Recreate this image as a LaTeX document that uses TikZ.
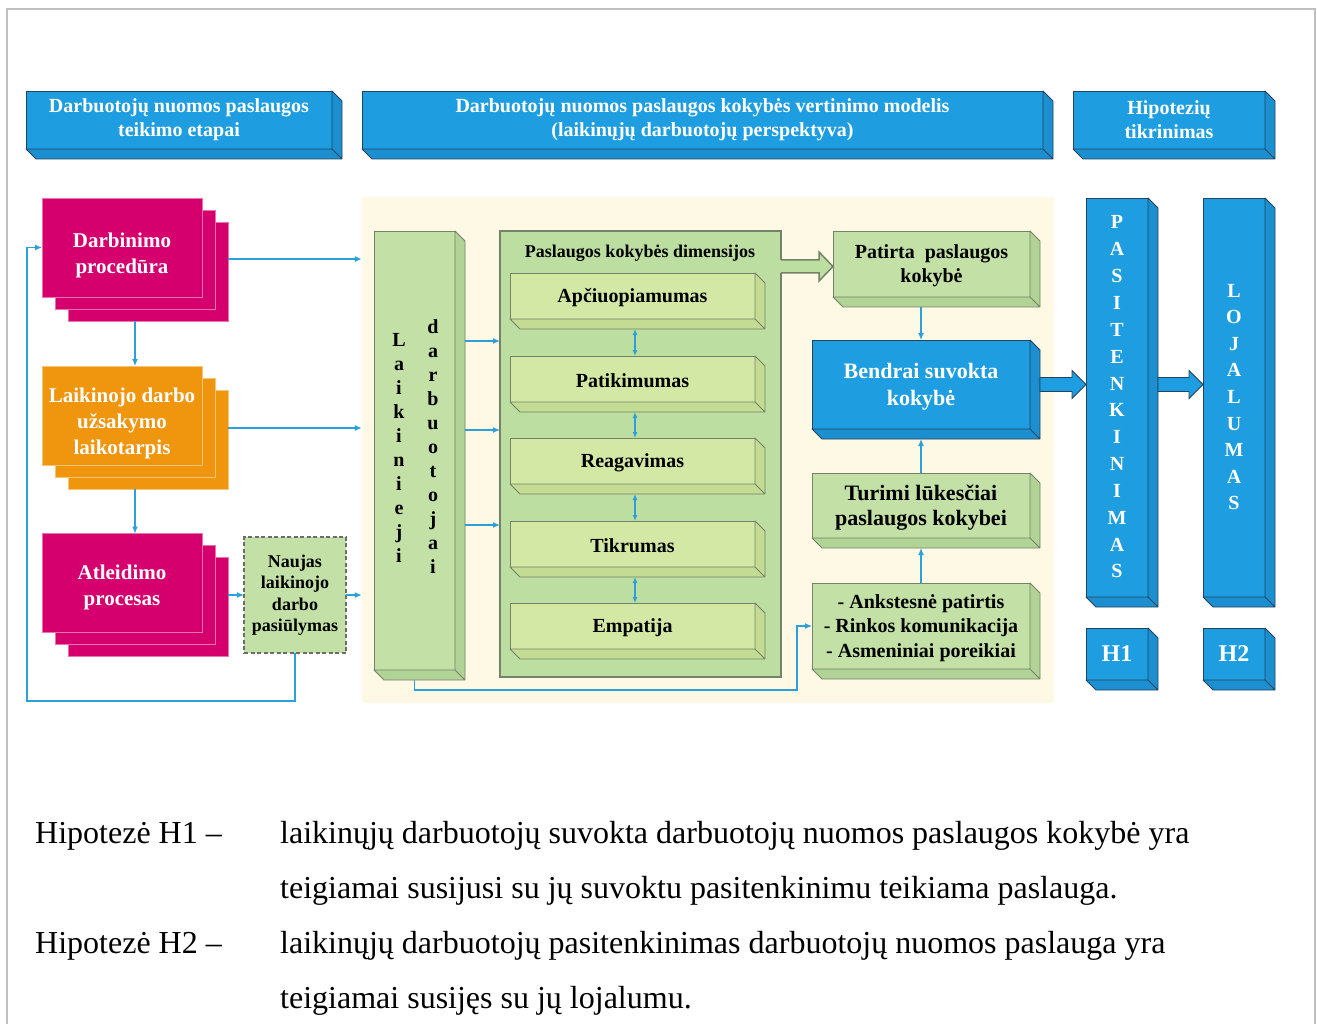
\documentclass[tikz,border=0pt]{standalone}
\usepackage{fontspec}
\setmainfont{Liberation Serif}
\usetikzlibrary{arrows.meta,calc}

\definecolor{hdrblue}{HTML}{1E9EE0}
\definecolor{hdrside}{HTML}{1B8FCF}
\definecolor{navy}{HTML}{24435E}
\definecolor{magen}{HTML}{D5006D}
\definecolor{orng}{HTML}{F0950E}
\definecolor{cream}{HTML}{FDF9E4}
\definecolor{grn}{HTML}{C3E0A6}
\definecolor{grnside}{HTML}{B2D396}
\definecolor{grnedge}{HTML}{74826B}
\definecolor{dimfill}{HTML}{BCDEA0}
\definecolor{lime}{HTML}{D4E8A6}
\definecolor{limeside}{HTML}{C4DB94}
\definecolor{arrblue}{HTML}{2BA0DA}
\definecolor{framegray}{HTML}{BFBFBF}

\newcommand\fs[2]{\fontsize{#1}{#2}\selectfont}

% right and bottom faces of a box seen slightly from below-right
\newcommand\extrude[3]{%
  \filldraw[fill=#2,draw=#3,line width=0.8pt,line join=round]
    (#1.north east) -- ([shift={(10,10)}]#1.north east) -- ([shift={(10,10)}]#1.south east) -- (#1.south east) -- cycle
    (#1.south west) -- ([shift={(10,10)}]#1.south west) -- ([shift={(10,10)}]#1.south east) -- (#1.south east) -- cycle;
  \coordinate (#1-x) at ([shift={(10,10)}]#1.south east);
}

% three sheets stacked behind each other, label lowered by #6
\newcommand\stackbox[6]{%
  \node[sheet,fill=#4,draw=#4!55!white] (#1-b2) at (#2+26,#3+24) {};
  \node[sheet,fill=#4,draw=#4!55!white] (#1-b1) at (#2+13,#3+12) {};
  \node[sheet,fill=#4,draw=#4!55!white] (#1) at (#2,#3) {};
  \node[align=center,inner sep=0pt,text=white,font=\bfseries\fs{21}{26}] (#1-t) at (#2,#3+#6) {#5};
}

% broad blue arrow between two points at the same height
\newcommand\fatarrow[2]{%
  \filldraw[fill=hdrblue,draw=navy,line width=0.8pt,line join=miter]
    ($(#1)+(0,-7)$) -- ($(#2)+(-14,-7)$) -- ($(#2)+(-14,-14)$) -- (#2) --
    ($(#2)+(-14,14)$) -- ($(#2)+(-14,7)$) -- ($(#1)+(0,7)$) -- cycle;
}

\tikzset{
  box/.style={draw,line width=0.8pt,inner sep=0pt,outer sep=0pt,align=center},
  hdr/.style={box,fill=hdrblue,draw=navy,text=white,font=\bfseries\fs{20}{24}},
  bluebox/.style={box,fill=hdrblue,draw=navy,text=white},
  greenbox/.style={box,fill=grn,draw=grnedge,font=\bfseries\fs{20}{24}},
  dimbox/.style={box,fill=lime,draw=grnedge,minimum width=245,minimum height=46,font=\bfseries\fs{20}{24}},
  sheet/.style={box,line width=0.7pt,minimum width=160,minimum height=99},
  arr/.style={draw=arrblue,line width=1.2pt,-{Latex[length=7pt,width=6pt]}},
  darr/.style={draw=arrblue,line width=1.2pt,{Latex[length=6pt,width=5pt]}-{Latex[length=6pt,width=5pt]}},
  letters/.style={align=center,inner sep=0pt,font=\bfseries\fs{20}{24}},
  caption/.style={anchor=base west,inner sep=0pt,font=\fs{32}{38}}
}

\begin{document}
\begin{tikzpicture}[x=1pt,y=-1pt]
\useasboundingbox (0,0) rectangle (1317,1024);

% page frame
\draw[framegray,line width=2pt] (7,1024) -- (7,9) -- (1315,9) -- (1315,1024);

% cream panel behind the model
\node[fill=cream,inner sep=0pt,minimum width=692,minimum height=506] (panel) at (708,450) {};

% column headers
\node[hdr,minimum width=306,minimum height=58] (hA) at (179,120) {Darbuotojų nuomos paslaugos\\teikimo etapai};
\extrude{hA}{hdrside}{navy}
\node[hdr,minimum width=681,minimum height=58] (hB) at (702.5,120) {Darbuotojų nuomos paslaugos kokybės vertinimo modelis\\(laikinųjų darbuotojų perspektyva)};
\extrude{hB}{hdrside}{navy}
\node[hdr,minimum width=192,minimum height=58] (hC) at (1169,120) {Hipotezių\\tikrinimas};
\extrude{hC}{hdrside}{navy}

% stages of the service
\stackbox{D}{122}{247.5}{magen}{Darbinimo\\procedūra}{8}
\stackbox{L}{122}{415.5}{orng}{Laikinojo darbo\\užsakymo\\laikotarpis}{8}
\stackbox{A}{122}{583}{magen}{Atleidimo\\procesas}{4}
\node[box,fill=grn,draw=gray!85!black,line width=1.1pt,dash pattern=on 4pt off 2.5pt,
      minimum width=102,minimum height=116,font=\bfseries\fs{18}{21.5}] (N) at (295,595)
      {Naujas\\laikinojo\\darbo\\pasiūlymas};

\draw[arr] (D-b2.south -| D-b1.center) -- (L.north -| D-b1.center);
\draw[arr] (L-b2.south -| L-b1.center) -- (A.north -| L-b1.center);
\draw[arr] (D-b2.east |- 0,259) -- (panel.west |- 0,259);
\draw[arr] (L-b2.east |- 0,428) -- (panel.west |- 0,428);
\draw[arr] (A-b2.east |- N.west) -- (N.west);
\draw[arr] (N.east) -- (panel.west |- N.east);
\draw[arr] (N.south) -- ++(0,48) -| ($(D.west)+(-15,0)$) -- (D.west);

% temporary workers
\node[box,fill=grn,draw=grnedge,minimum width=81,minimum height=439] (LD) at (414.5,450.5) {};
\extrude{LD}{grnside}{grnedge}
\node[letters] (LDa) at (399,448) {L\\a\\i\\k\\i\\n\\i\\e\\j\\i};
\node[letters] (LDb) at (433,446.5) {d\\a\\r\\b\\u\\o\\t\\o\\j\\a\\i};

% service quality dimensions
\node[box,fill=dimfill,draw=grnedge,line width=2pt,minimum width=281,minimum height=446] (dims) at (640.5,454) {};
\node[inner sep=0pt,font=\bfseries\fs{18}{22}] (dimt) at (640,253) {Paslaugos kokybės dimensijos};
\foreach \n/\y/\t in {d1/296/Apčiuopiamumas,d2/379/Patikimumas,d3/461/Reagavimas,d4/544/Tikrumas,d5/626/Empatija}{
  \node[dimbox] (\n) at (632.5,\y) {};
  \extrude{\n}{limeside}{grnedge}
  \node[inner sep=0pt,font=\bfseries\fs{20}{24}] (\n-t) at (632.5,\y+2) {\t};
}
\foreach \a/\b in {d1/d2,d2/d3,d3/d4,d4/d5}
  \draw[darr] (\a-x -| 635,0) -- (\b.north -| 635,0);
\foreach \y in {341,430,525}
  \draw[arr] (LD-x |- 0,\y) -- (dims.west |- 0,\y);

% perceived, expected and overall quality
\node[greenbox,minimum width=197,minimum height=66] (P) at (931.5,264) {};
\extrude{P}{grnside}{grnedge}
\node[align=center,inner sep=0pt,font=\bfseries\fs{20}{24}] (P-t) at (931.5,266) {Patirta\ \ paslaugos\\kokybė};
\node[bluebox,minimum width=218,minimum height=89] (B) at (921,384.5) {};
\extrude{B}{hdrside}{navy}
\node[align=center,inner sep=0pt,text=white,font=\bfseries\fs{22}{27}] (B-t) at (921,387) {Bendrai suvokta\\kokybė};
\node[greenbox,minimum width=218,minimum height=65] (T) at (921,505.5) {};
\extrude{T}{grnside}{grnedge}
\node[align=center,inner sep=0pt,font=\bfseries\fs{22}{25}] (T-t) at (921,508) {Turimi lūkesčiai\\paslaugos kokybei};
\node[greenbox,minimum width=218,minimum height=86] (K) at (921,626) {};
\extrude{K}{grnside}{grnedge}
\node[align=center,inner sep=0pt,font=\bfseries\fs{20}{24.5}] (K-t) at (921,628) {- Ankstesnė patirtis\\- Rinkos komunikacija\\- Asmeniniai poreikiai};

% hollow arrow from the dimensions to the perceived quality
\coordinate (ha) at (dims.east |- 0,266.5);
\coordinate (hb) at (P.west |- 0,266.5);
\fill[dimfill] ($(ha)+(-2,-6.5)$) -- ($(hb)+(-14,-6.5)$) -- ($(hb)+(-14,-14.5)$) -- (hb) --
  ($(hb)+(-14,14.5)$) -- ($(hb)+(-14,6.5)$) -- ($(ha)+(-2,6.5)$) -- cycle;
\draw[grnedge,line width=1.5pt,line join=miter] ($(ha)+(0,-6.5)$) -- ($(hb)+(-14,-6.5)$) -- ($(hb)+(-14,-14.5)$) -- (hb) --
  ($(hb)+(-14,14.5)$) -- ($(hb)+(-14,6.5)$) -- ($(ha)+(0,6.5)$);

\draw[arr] (B.north |- P-x) -- (B.north);
\draw[arr] (T.north) -- (B.south |- B-x);
\draw[arr] (K.north) -- (T.south |- T-x);
\draw[arr] (LD-x -| LD.south) -- ++(0,10) -| ($(K.west)+(-15,0)$) -- (K.west);

% satisfaction and loyalty
\node[bluebox,minimum width=62,minimum height=399] (PAS) at (1117,397.5) {};
\extrude{PAS}{hdrside}{navy}
\node[letters,text=white,font=\bfseries\fs{20}{26.85}] (PASt) at (1117,397) {P\\A\\S\\I\\T\\E\\N\\K\\I\\N\\I\\M\\A\\S};
\node[bluebox,minimum width=62,minimum height=399] (LOJ) at (1234,397.5) {};
\extrude{LOJ}{hdrside}{navy}
\node[letters,text=white,font=\bfseries\fs{20}{26.6}] (LOJt) at (1234,397) {L\\O\\J\\A\\L\\U\\M\\A\\S};
\node[bluebox,minimum width=62,minimum height=52,font=\bfseries\fs{24}{28}] (H1) at (1117,654) {H1};
\extrude{H1}{hdrside}{navy}
\node[bluebox,minimum width=62,minimum height=52,font=\bfseries\fs{24}{28}] (H2) at (1234,654) {H2};
\extrude{H2}{hdrside}{navy}

\coordinate (f1a) at (B-x |- B.east);
\coordinate (f1b) at (PAS.west |- B.east);
\fatarrow{f1a}{f1b}
\coordinate (f2a) at (PAS-x |- B.east);
\coordinate (f2b) at (LOJ.west |- B.east);
\fatarrow{f2a}{f2b}

% hypotheses
\node[caption] (c1) at (35,843) {Hipotezė H1 –};
\node[caption] (c1a) at (280,843) {laikinųjų darbuotojų suvokta darbuotojų nuomos paslaugos kokybė yra};
\node[caption] (c1b) at (280,898) {teigiamai susijusi su jų suvoktu pasitenkinimu teikiama paslauga.};
\node[caption] (c2) at (35,953) {Hipotezė H2 –};
\node[caption] (c2a) at (280,953) {laikinųjų darbuotojų pasitenkinimas darbuotojų nuomos paslauga yra};
\node[caption] (c2b) at (280,1008) {teigiamai susijęs su jų lojalumu.};
\end{tikzpicture}
\end{document}
